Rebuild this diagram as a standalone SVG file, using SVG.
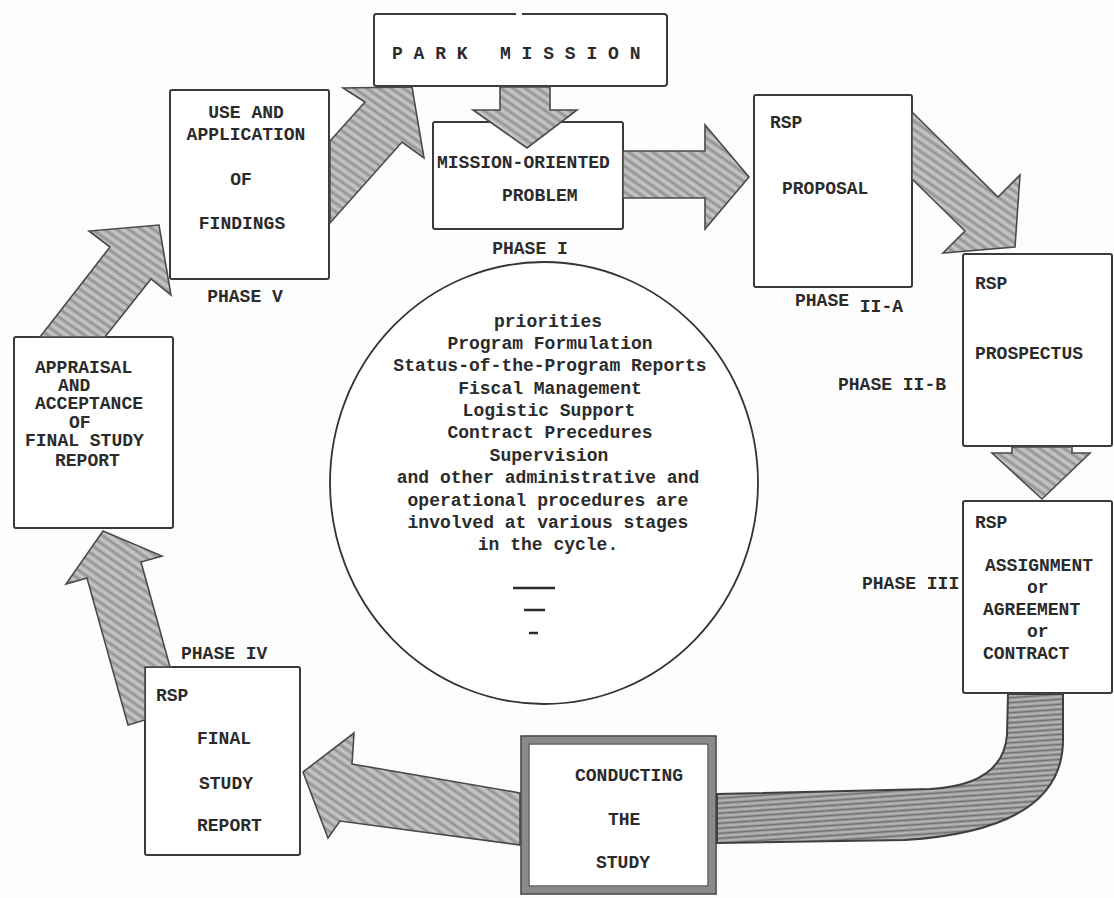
<svg xmlns="http://www.w3.org/2000/svg" width="1114" height="898" viewBox="0 0 1114 898">
<defs>
<pattern id="tex" width="7" height="7" patternUnits="userSpaceOnUse" patternTransform="rotate(35)">
<rect width="7" height="7" fill="#b4b4b4"/>
<line x1="0" y1="2" x2="7" y2="2" stroke="#8c8c8c" stroke-width="1.6"/>
<line x1="0" y1="5.5" x2="7" y2="5.5" stroke="#d2d2d2" stroke-width="1"/>
</pattern>
<pattern id="tex2" width="9" height="5" patternUnits="userSpaceOnUse" patternTransform="rotate(-4)">
<rect width="9" height="5" fill="#9e9e9e"/>
<line x1="0" y1="1.5" x2="9" y2="1.5" stroke="#6f6f6f" stroke-width="1.4"/>
<line x1="0" y1="4" x2="9" y2="4" stroke="#c6c6c6" stroke-width="1"/>
</pattern>
</defs>
<style>
.box{fill:#fff;stroke:#3a3a3a;stroke-width:2}
.t{font-family:"Liberation Mono","DejaVu Sans Mono",monospace;font-size:18px;font-weight:bold;fill:#2b2b2b}
.c{text-anchor:middle}
.arr{fill:url(#tex);stroke:#4a4a4a;stroke-width:1.6;stroke-linejoin:miter}
.dash{stroke:#2b2b2b;stroke-width:2.5}
</style>
<rect width="1114" height="898" fill="#fdfdfd"/>

<g id="center-circle">
<ellipse cx="544" cy="483" rx="214" ry="221" fill="#fff" stroke="#333" stroke-width="1.8"/>
<text class="t c" x="548" y="327">priorities</text>
<text class="t c" x="550" y="349">Program Formulation</text>
<text class="t c" x="550" y="371">Status-of-the-Program Reports</text>
<text class="t c" x="550" y="394">Fiscal Management</text>
<text class="t c" x="549" y="416">Logistic Support</text>
<text class="t c" x="550" y="438">Contract Precedures</text>
<text class="t c" x="549" y="461">Supervision</text>
<text class="t c" x="548" y="483">and other administrative and</text>
<text class="t c" x="548" y="506">operational procedures are</text>
<text class="t c" x="548" y="528">involved at various stages</text>
<text class="t c" x="548" y="550">in the cycle.</text>
<line class="dash" x1="513" y1="588" x2="555" y2="588"/>
<line class="dash" x1="524" y1="610" x2="545" y2="610"/>
<line class="dash" x1="529" y1="633" x2="538" y2="633"/>
</g>

<g id="park-mission">
<path d="M516,14 H376 Q374,14 374,17 V84 Q374,86 377,86 H664 Q667,86 667,83 V17 Q667,14 664,14 H522" fill="#fff" stroke="#3a3a3a" stroke-width="2"/>
<text class="t" x="392" y="59" xml:space="preserve">P A R K   M I S S I O N</text>
</g>

<g id="phase-1">
<rect class="box" x="433" y="122" width="190" height="107" rx="2"/>
<text class="t" x="437" y="168">MISSION-ORIENTED</text>
<text class="t" x="502" y="201">PROBLEM</text>
<text class="t c" x="530" y="254">PHASE I</text>
</g>

<g id="phase-2a">
<rect class="box" x="754" y="95" width="158" height="192" rx="2"/>
<text class="t" x="770" y="128">RSP</text>
<text class="t" x="782" y="194">PROPOSAL</text>
<text class="t" x="795" y="306">PHASE <tspan dy="6">II-A</tspan></text>
</g>

<g id="phase-2b">
<rect class="box" x="963" y="254" width="149" height="192" rx="2"/>
<text class="t" x="975" y="289">RSP</text>
<text class="t" x="975" y="359">PROSPECTUS</text>
<text class="t" x="838" y="390">PHASE II-B</text>
</g>

<g id="phase-3">
<rect class="box" x="963" y="501" width="149" height="192" rx="2"/>
<text class="t" x="975" y="528">RSP</text>
<text class="t" x="985" y="571">ASSIGNMENT</text>
<text class="t" x="1027" y="593">or</text>
<text class="t" x="983" y="615">AGREEMENT</text>
<text class="t" x="1027" y="637">or</text>
<text class="t" x="983" y="659">CONTRACT</text>
<text class="t" x="862" y="589">PHASE III</text>
</g>

<g id="conducting">
<rect x="525" y="740" width="187" height="150" fill="#fff" stroke="#8a8a8a" stroke-width="7"/>
<rect x="521" y="736" width="195" height="158" fill="none" stroke="#3a3a3a" stroke-width="1.5"/>
<rect x="529" y="744" width="179" height="142" fill="none" stroke="#3a3a3a" stroke-width="1.2"/>
<text class="t" x="575" y="781">CONDUCTING</text>
<text class="t" x="608" y="825">THE</text>
<text class="t" x="596" y="868">STUDY</text>
</g>

<g id="phase-4">
<rect class="box" x="145" y="667" width="155" height="188" rx="2"/>
<text class="t" x="156" y="701">RSP</text>
<text class="t" x="197" y="744">FINAL</text>
<text class="t" x="199" y="789">STUDY</text>
<text class="t" x="197" y="831">REPORT</text>
<text class="t" x="181" y="659">PHASE IV</text>
</g>

<g id="appraisal">
<rect class="box" x="14" y="337" width="159" height="191" rx="2"/>
<text class="t" x="35" y="373">APPRAISAL</text>
<text class="t" x="58" y="391">AND</text>
<text class="t" x="35" y="409">ACCEPTANCE</text>
<text class="t" x="69" y="428">OF</text>
<text class="t" x="25" y="446">FINAL STUDY</text>
<text class="t" x="55" y="466">REPORT</text>
</g>

<g id="phase-5">
<rect class="box" x="170" y="90" width="159" height="189" rx="2"/>
<text class="t c" x="246" y="118">USE AND</text>
<text class="t c" x="246" y="140">APPLICATION</text>
<text class="t c" x="241" y="185">OF</text>
<text class="t c" x="242" y="229">FINDINGS</text>
<text class="t c" x="245" y="302">PHASE V</text>
</g>

<g id="connectors">
<polygon class="arr" points="330,141 365,102 343,88 412,87 424,158 402,142 330,223"/>
<polygon class="arr" points="500,87 550,87 550,110 577,110 527,148 473,110 500,110"/>
<polygon class="arr" points="623,151 705,151 705,125 749,177 705,229 705,198 623,198"/>
<polygon class="arr" points="912,112 998,197 1020,175 1015,247 943,253 965,231 912,179"/>
<polygon class="arr" points="1012,447 1072,447 1072,453 1090,453 1042,499 992,453 1012,453"/>
<path d="M1008,694 L1007,735 Q1003,785 930,789 L717,794 L717,843 L905,840 Q1063,830 1063,740 L1063,694 Z" fill="url(#tex2)" stroke="#3f3f3f" stroke-width="2"/>
<polygon class="arr" points="520,793 352,764 354,733 303,772 328,838 340,821 520,845"/>
<polygon class="arr" points="141,562 170,667 145,667 145,720 128,725 87,578 66,584 103,531 162,556"/>
<polygon class="arr" points="40,337 110,247 89,231 159,225 171,295 151,279 105,337"/>
</g>
</svg>
